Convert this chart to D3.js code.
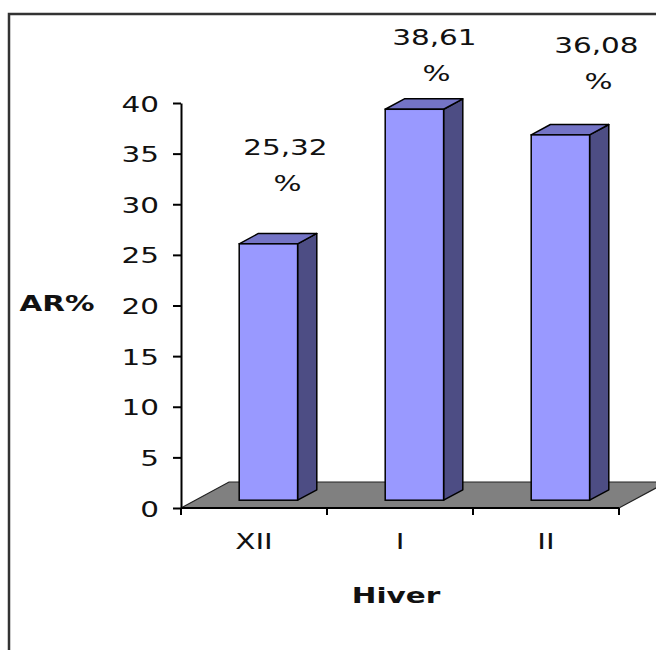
<!DOCTYPE html>
<html>
<head>
<meta charset="utf-8">
<script src="https://cdn.jsdelivr.net/npm/d3@7"></script>
<style>
  html, body { margin: 0; padding: 0; background: #fff; }
  svg { display: block; }
  text { font-family: "DejaVu Sans", sans-serif; fill: #111; }
</style>
</head>
<body>
<svg id="chart" width="656" height="650"></svg>
<script>
// Attack rate (AR%) per winter month
const categories = ["XII", "I", "II"];
const values = [25.32, 38.61, 36.08];
const yTicks = [0, 5, 10, 15, 20, 25, 30, 35, 40];
const yTitle = "AR%";
const xTitle = "Hiver";

// layout
const W = 656, H = 650;
const plot = { left: 181, right: 619, top: 103, bottom: 508 };
const depth = { dx: 48, dy: 26 };       // floor depth vector
const zFront = 0.3, zBack = 0.7;        // bar slab within floor depth
const stretch = 1.34;                   // wide bitmap-like lettering
const fontSize = 22;
// data-label placement relative to each bar's front face
const labelDx = [17, 20, 36];
const labelDy = [-89, -64, -82];

const svg = d3.select("#chart");

const y = d3.scaleLinear().domain([0, 40]).range([plot.bottom, plot.top]);
const x = d3.scaleBand().domain(categories).range([plot.left, plot.right]).padding(0);
const barW = x.bandwidth() / 2.5;       // 150% gap width
const fmt = v => d3.format(".2f")(v).replace(".", ",");

function stretchedText(g, str, px, py, anchor, weight) {
  return g.append("text")
    .attr("transform", `translate(${px},${py}) scale(${stretch},1)`)
    .attr("text-anchor", anchor || "middle")
    .style("font-size", fontSize + "px")
    .style("font-weight", weight || "normal")
    .text(str);
}

// outer frame
svg.append("rect")
  .attr("x", 9).attr("y", 14)
  .attr("width", 720).attr("height", 720)
  .attr("fill", "none").attr("stroke", "#333").attr("stroke-width", 2.5);

// floor
const y0 = y(0);
const floorPts = [
  [plot.left, y0], [plot.right, y0],
  [plot.right + depth.dx, y0 - depth.dy], [plot.left + depth.dx, y0 - depth.dy]
];
svg.append("polygon")
  .attr("points", floorPts.map(p => p.join(",")).join(" "))
  .attr("fill", "#808080").attr("stroke", "#222").attr("stroke-width", 1.2);

// bars
const fdx = zFront * depth.dx, fdy = zFront * depth.dy;
const sdx = (zBack - zFront) * depth.dx, sdy = (zBack - zFront) * depth.dy;

const bars = svg.append("g").selectAll("g")
  .data(categories.map((c, i) => ({ c, v: values[i], i })))
  .join("g");

bars.each(function (d) {
  const g = d3.select(this);
  const left = x(d.c) + (x.bandwidth() - barW) / 2 + fdx;
  const right = left + barW;
  const top = y(d.v) - fdy;
  const bottom = y(0) - fdy;
  d.cx = left + barW / 2;
  d.top = top;
  // side face
  g.append("polygon")
    .attr("points", [[right, top], [right + sdx, top - sdy], [right + sdx, bottom - sdy], [right, bottom]]
      .map(p => p.join(",")).join(" "))
    .attr("fill", "#4d4d84").attr("stroke", "#000").attr("stroke-width", 1.5)
    .attr("stroke-linejoin", "round");
  // top face
  g.append("polygon")
    .attr("points", [[left, top], [left + sdx, top - sdy], [right + sdx, top - sdy], [right, top]]
      .map(p => p.join(",")).join(" "))
    .attr("fill", "#7474c6").attr("stroke", "#000").attr("stroke-width", 1.5)
    .attr("stroke-linejoin", "round");
  // front face
  g.append("rect")
    .attr("x", left).attr("y", top)
    .attr("width", barW).attr("height", bottom - top)
    .attr("fill", "#9999ff").attr("stroke", "#000").attr("stroke-width", 1.5);
});

// value labels (number with % on the next line)
bars.each(function (d) {
  const g = d3.select(this);
  const lx = d.cx + labelDx[d.i];
  const ly = d.top + labelDy[d.i];
  stretchedText(g, fmt(d.v), lx, ly);
  stretchedText(g, "%", lx + 2, ly + 36);
});

// value axis
const yAxis = svg.append("g")
  .attr("transform", `translate(${plot.left},0)`)
  .call(d3.axisLeft(y).tickValues(yTicks).tickSize(8).tickSizeOuter(0).tickFormat(d3.format("d")));
yAxis.select(".domain").attr("stroke", "#000").attr("stroke-width", 2);
yAxis.selectAll(".tick line").attr("stroke", "#000").attr("stroke-width", 2);
yAxis.selectAll(".tick text")
  .attr("x", null).attr("dy", null)
  .attr("transform", `translate(-22,8) scale(${stretch},1)`)
  .attr("text-anchor", "end")
  .attr("fill", "#111")
  .style("font-family", "DejaVu Sans, sans-serif")
  .style("font-size", fontSize + "px");

// category axis: line, boundary ticks, centred labels
const xAxis = svg.append("g").attr("transform", `translate(0,${y0})`);
xAxis.append("line")
  .attr("x1", plot.left).attr("x2", plot.right)
  .attr("stroke", "#000").attr("stroke-width", 2);
const bounds = categories.map(c => x(c)).concat([x(categories[categories.length - 1]) + x.bandwidth()]);
xAxis.selectAll(".bt").data(bounds).join("line")
  .attr("class", "bt")
  .attr("x1", d => d).attr("x2", d => d)
  .attr("y1", 0).attr("y2", 7)
  .attr("stroke", "#000").attr("stroke-width", 2);
const xLab = svg.append("g")
  .attr("transform", `translate(0,${y0})`)
  .call(d3.axisBottom(x).tickSize(0).tickPadding(0));
xLab.select(".domain").remove();
xLab.selectAll(".tick text")
  .attr("y", null).attr("dy", null)
  .attr("transform", `translate(0,41) scale(${stretch},1)`)
  .attr("fill", "#111")
  .style("font-family", "DejaVu Sans, sans-serif")
  .style("font-size", fontSize + "px");

// axis titles
stretchedText(svg, yTitle, 57, 311, "middle", "bold");
stretchedText(svg, xTitle, 396, 603, "middle", "bold");
</script>
</body>
</html>
